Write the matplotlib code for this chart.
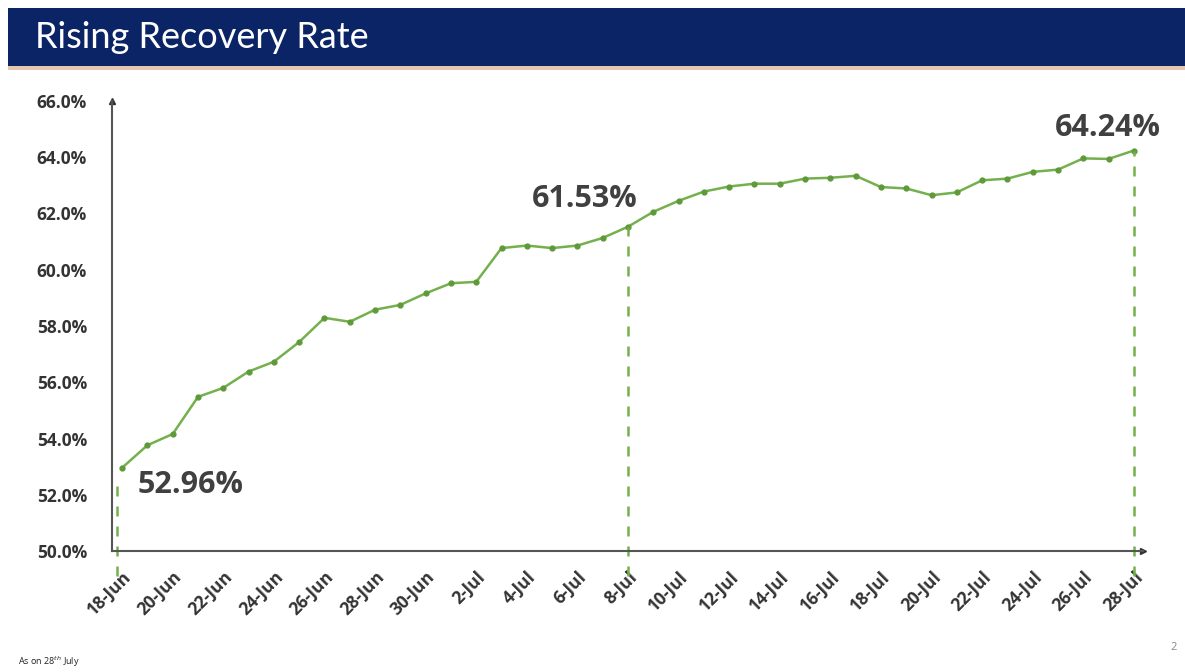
import matplotlib
matplotlib.use("Agg")
import matplotlib.pyplot as plt
from matplotlib.patches import Rectangle
import numpy as np

# daily recovery rate (%), 18-Jun to 28-Jul
dates = ['18-Jun', '19-Jun', '20-Jun', '21-Jun', '22-Jun', '23-Jun', '24-Jun',
         '25-Jun', '26-Jun', '27-Jun', '28-Jun', '29-Jun', '30-Jun',
         '1-Jul', '2-Jul', '3-Jul', '4-Jul', '5-Jul', '6-Jul', '7-Jul', '8-Jul',
         '9-Jul', '10-Jul', '11-Jul', '12-Jul', '13-Jul', '14-Jul', '15-Jul',
         '16-Jul', '17-Jul', '18-Jul', '19-Jul', '20-Jul', '21-Jul', '22-Jul',
         '23-Jul', '24-Jul', '25-Jul', '26-Jul', '27-Jul', '28-Jul']
rate = [52.96, 53.76, 54.16, 55.48, 55.80, 56.38, 56.73,
        57.43, 58.29, 58.15, 58.58, 58.75, 59.16,
        59.52, 59.57, 60.77, 60.86, 60.77, 60.86, 61.13, 61.53,
        62.06, 62.45, 62.78, 62.96, 63.06, 63.06, 63.24,
        63.27, 63.34, 62.94, 62.89, 62.65, 62.75, 63.18,
        63.24, 63.48, 63.56, 63.96, 63.94, 64.24]
highlight_idx = [0, 20, 40]
highlight_txt = ['52.96%', '61.53%', '64.24%']

green = '#74b04c'
dark = '#333333'
x = np.arange(len(dates))

fig = plt.figure(figsize=(11.85, 6.72), dpi=100)
plt.rcParams['font.family'] = ['Open Sans', 'DejaVu Sans']

# title banner
fig.patches.append(Rectangle((8/1185, 1-66/672), 1, 58/672, transform=fig.transFigure,
                             facecolor='#0b2466', edgecolor='none'))
fig.patches.append(Rectangle((8/1185, 1-70/672), 1, 4/672, transform=fig.transFigure,
                             facecolor='#d9b08c', edgecolor='none', alpha=0.7))
fig.text(35/1185, 1-38/672, 'Rising Recovery Rate', color='white', fontsize=26,
         family=['Lato', 'DejaVu Sans'], va='center', ha='left')

ax = fig.add_axes([112/1185, 1-551/672, 1031/1185, 450/672])
ax.plot(x, rate, color=green, lw=1.8, marker='o', ms=3.5, mfc='#5e9a3a', mec='#5e9a3a')

ax.set_xlim(-0.4, 40.36)
ax.set_ylim(50, 66)
ax.set_yticks(np.arange(50, 66.1, 2))
ax.set_yticklabels([f'{v:.1f}%' for v in np.arange(50, 66.1, 2)])
ax.set_xticks(x[::2])
ax.set_xticklabels(dates[::2], rotation=45, ha='right', rotation_mode='anchor')
ax.tick_params(length=0, labelsize=12.5, labelcolor=dark)
ax.tick_params(axis='y', pad=18)
ax.tick_params(axis='x', pad=12)
for lab in ax.get_xticklabels() + ax.get_yticklabels():
    lab.set_fontweight('bold')

for s in ['top', 'right']:
    ax.spines[s].set_visible(False)
for s in ['left', 'bottom']:
    ax.spines[s].set_color('#555555')
    ax.spines[s].set_linewidth(1.5)
ax.plot(1, 0, '>', color='#333333', ms=5, transform=ax.transAxes, clip_on=False)
ax.plot(0, 1, '^', color='#333333', ms=4, transform=ax.transAxes, clip_on=False)

# dashed drop lines and labels
for i, t in zip(highlight_idx, highlight_txt):
    top = rate[i] if i else rate[i] - 0.5
    xi = x[i] - (0.2 if i == 0 else 0)
    ax.plot([xi, xi], [49.1, top], color=green, ls=(0, (4, 4)), lw=1.8, clip_on=False)
ax.text(x[0] + 0.6, rate[0] - 0.6, highlight_txt[0], fontsize=22, fontweight='bold',
        color='#404040', ha='left', va='center')
ax.text(x[20] + 0.4, rate[20] + 0.45, highlight_txt[1], fontsize=22, fontweight='bold',
        color='#404040', ha='right', va='bottom')
ax.text(x[40] + 1.05, rate[40] + 0.25, highlight_txt[2], fontsize=22, fontweight='bold',
        color='#404040', ha='right', va='bottom')

fig.text(18/1185, 1-662/672, 'As on 28$^{th}$ July', fontsize=6.5, color='#222222', va='center')
fig.text(1170/1185, 1-648/672, '2', fontsize=8, color='#888888', va='center')

fig.savefig('out.png', dpi=100, facecolor='white')
